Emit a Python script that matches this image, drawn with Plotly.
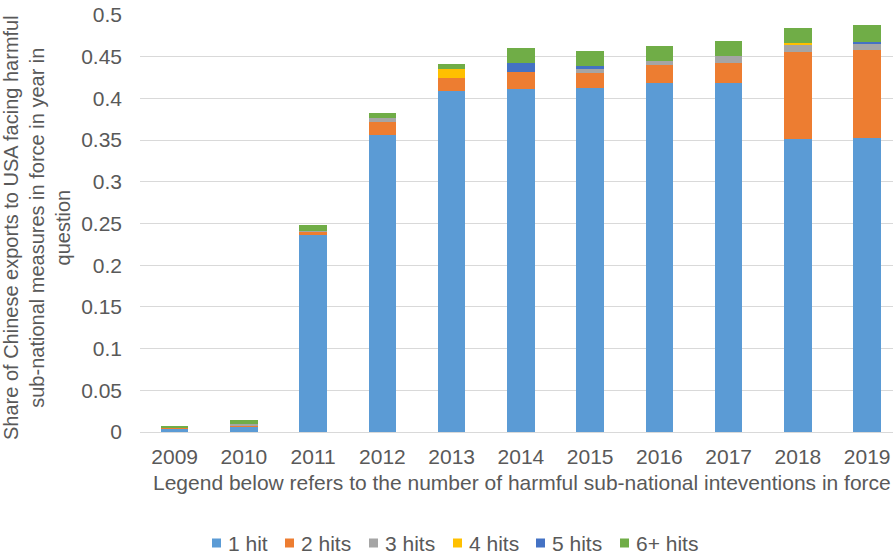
import plotly.graph_objects as go

years = ["2009", "2010", "2011", "2012", "2013", "2014", "2015", "2016", "2017", "2018", "2019"]
series_names = ["1 hit", "2 hits", "3 hits", "4 hits", "5 hits", "6+ hits"]
hit1 = [0.004, 0.007, 0.236, 0.356, 0.409, 0.411, 0.412, 0.419, 0.419, 0.351, 0.352]
hit2 = [0.001, 0.001, 0.004, 0.0155, 0.0155, 0.021, 0.018, 0.021, 0.0235, 0.105, 0.1055]
hit3 = [0.0005, 0.002, 0.001, 0.0053, 0.0, 0.0, 0.005, 0.005, 0.0088, 0.009, 0.0072]
hit4 = [0.0, 0.0, 0.0, 0.0, 0.011, 0.0, 0.0, 0.0, 0.0, 0.001, 0.0]
hit5 = [0.0, 0.0, 0.0, 0.0, 0.0, 0.011, 0.004, 0.0, 0.0, 0.0, 0.0028]
hit6 = [0.0015, 0.004, 0.007, 0.0056, 0.006, 0.018, 0.0176, 0.018, 0.018, 0.018, 0.0204]
colors = ["#5B9BD5", "#ED7D31", "#A5A5A5", "#FFC000", "#4472C4", "#70AD47"]

yticks = [0, 0.05, 0.1, 0.15, 0.2, 0.25, 0.3, 0.35, 0.4, 0.45, 0.5]
ytick_labels = ["0", "0.05", "0.1", "0.15", "0.2", "0.25", "0.3", "0.35", "0.4", "0.45", "0.5"]

y_title = "Share of Chinese exports to USA facing harmful<br>sub-national measures in force in year in<br>question"
x_title = "Legend below refers to the number of harmful sub-national inteventions in force"

font_color = "#595959"
FONT = "Liberation Sans, Arial"

W, H = 893, 555
ml, mr, mt, mb = 140, 0, 15, 123
pw = W - ml - mr
ph = H - mt - mb


def px_x(p):
    return (p - ml) / pw


def px_y(p):
    return (H - mb - p) / ph


fig = go.Figure()
for name, vals, col in zip(series_names, [hit1, hit2, hit3, hit4, hit5, hit6], colors):
    fig.add_trace(go.Bar(x=list(range(len(years))), y=vals, name=name,
                         marker=dict(color=col, line=dict(width=0)), showlegend=False))

# Legend drawn as shapes + text, laid out like the original
legend_x = [212, 285, 369, 453, 536, 620]
legend_y = 543
sq = 9
shapes = []
annotations = []
for name, col, lx in zip(series_names, colors, legend_x):
    shapes.append(dict(type="rect", xref="paper", yref="paper",
                       x0=px_x(lx), x1=px_x(lx + sq), y0=px_y(legend_y + sq / 2), y1=px_y(legend_y - sq / 2),
                       fillcolor=col, line=dict(width=0)))
    annotations.append(dict(text=name, xref="paper", yref="paper", x=px_x(lx + sq + 5), y=px_y(legend_y),
                            xanchor="left", yanchor="middle", showarrow=False,
                            font=dict(size=21, color=font_color, family=FONT)))

annotations.append(dict(text=y_title, textangle=-90, xref="paper", yref="paper", x=px_x(37), y=px_y(228),
                        xanchor="center", yanchor="middle", showarrow=False,
                        font=dict(size=20, color=font_color, family=FONT)))
annotations.append(dict(text=x_title, xref="paper", yref="paper", x=px_x(521.5), y=px_y(483),
                        xanchor="center", yanchor="middle", showarrow=False,
                        font=dict(size=21, color=font_color, family=FONT)))

fig.update_layout(
    width=W, height=H,
    barmode="stack", bargap=0.6,
    plot_bgcolor="white", paper_bgcolor="white",
    margin=dict(l=ml, r=mr, t=mt, b=mb, autoexpand=False),
    font=dict(family=FONT, size=21, color=font_color),
    showlegend=False,
    xaxis=dict(tickmode="array", tickvals=list(range(len(years))), ticktext=years,
               range=[-0.5, -0.5 + pw / 69.25], showgrid=False, showline=True, linecolor="#D9D9D9", linewidth=1,
               ticks="", ticklabelstandoff=6, tickfont=dict(size=21, color=font_color), zeroline=False),
    yaxis=dict(range=[0, 0.5], tickmode="array", tickvals=yticks, ticktext=ytick_labels,
               showgrid=True, gridcolor="#D9D9D9", gridwidth=1, zeroline=False, ticks="",
               ticklabelstandoff=17, tickfont=dict(size=21, color=font_color)),
    shapes=shapes,
    annotations=annotations,
)
fig.write_html("out.html")
